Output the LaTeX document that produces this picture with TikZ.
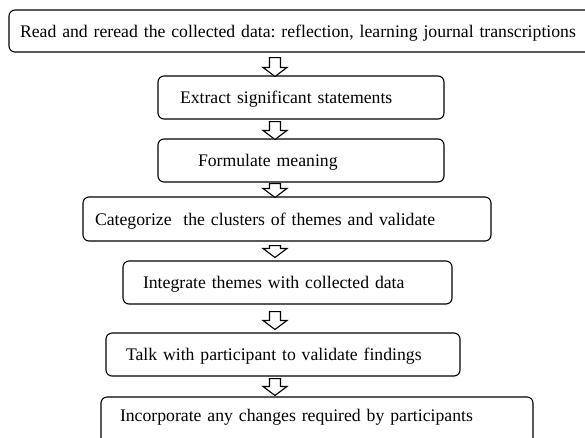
\documentclass[tikz,border=0pt]{standalone}
\usepackage{fontspec}
\setmainfont{Liberation Serif}
\usetikzlibrary{calc}
\frenchspacing

\tikzset{
  stage/.style={draw, line width=1.1pt, rounded corners=6pt, align=left,
    minimum height=43pt, text height=12pt, text depth=0pt,
    font=\fontsize{17.7}{21}\selectfont\frenchspacing},
  hollow/.style={draw, line width=1.1pt, fill=white, line join=miter}
}

\begin{document}
\begin{tikzpicture}[x=1pt,y=-1pt]
  \useasboundingbox (0,0) rectangle (585,437);
  \clip (0,0) rectangle (585,437);

  % the steps, top to bottom
  \node[stage,minimum height=42pt,text width=569pt,inner xsep=11pt] (s1) at (304.5,31)
    {Read and reread the collected data: reflection, learning journal transcriptions};
  \node[stage,text width=242pt,inner xsep=22pt] (s2) at (301,97.5)
    {Extract significant statements};
  \node[stage,text width=206pt,inner xsep=40pt] (s3) at (301,160.5)
    {Formulate meaning};
  \node[stage,minimum height=44pt,text width=384pt,inner xsep=12pt] (s4) at (287,219)
    {Categorize~ the clusters of themes and validate};
  \node[stage,text width=289pt,inner xsep=20pt] (s5) at (287.5,282.5)
    {Integrate themes with collected data};
  \node[stage,text width=314pt,inner xsep=20pt] (s6) at (283,354.5)
    {Talk with participant to validate findings};
  \node[stage,minimum height=50pt,text depth=14pt,text width=394pt,inner xsep=19pt] (s7) at (317,422)
    {Incorporate any changes required by participants};

  % hollow block arrows between the steps
  % \s = gap under the upper box, \t = where the tip sits against the lower box
  \coordinate (ax) at (275,0);
  \foreach \a/\b/\s/\t in {s1/s2/5/1,s2/s3/2/1,s3/s4/1/1,s4/s5/4/-3,s5/s6/7/-3,s6/s7/2/-1}
    \draw[hollow]
      ($(\a.south -| ax)+(-5.5,\s)$) -- ($(\a.south -| ax)+(5.5,\s)$)
      -- ($(\b.north -| ax)+(5.5,\t-9)$) -- ($(\b.north -| ax)+(12,\t-9)$)
      -- ($(\b.north -| ax)+(0,\t)$) -- ($(\b.north -| ax)+(-12,\t-9)$)
      -- ($(\b.north -| ax)+(-5.5,\t-9)$) -- cycle;
\end{tikzpicture}
\end{document}
